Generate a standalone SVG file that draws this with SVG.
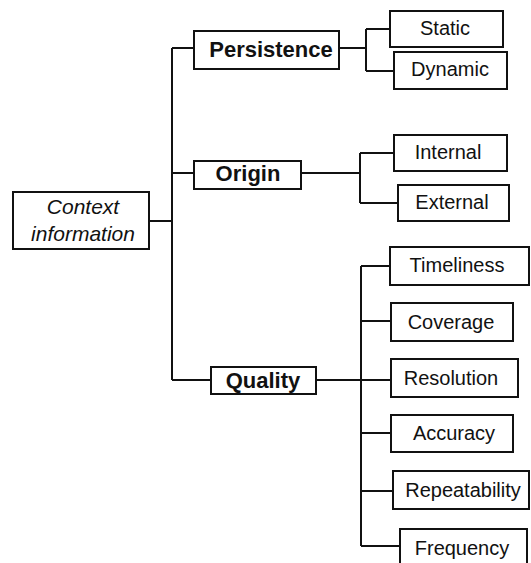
<svg xmlns="http://www.w3.org/2000/svg" width="531" height="563" viewBox="0 0 531 563">
  <style>
    .box { fill: #ffffff; stroke: #111111; stroke-width: 2; }
    .wire { fill: none; stroke: #111111; stroke-width: 2; }
    text { font-family: "Liberation Sans", Arial, sans-serif; fill: #111111; text-anchor: middle; }
    .leaf { font-size: 20px; }
    .cat { font-size: 22px; font-weight: bold; }
    .root { font-size: 21px; font-style: italic; }
  </style>
  <rect width="531" height="563" fill="#ffffff"/>

  <!-- tree connectors -->
  <g id="connectors">
    <path class="wire" d="M149 221 H172 M172 48 V380 M172 48 H194 M172 173 H194 M172 380 H211"/>
    <path class="wire" d="M339 48 H366 M366 29 V71 M366 29 H390 M366 71 H394"/>
    <path class="wire" d="M301 173 H360 M360 153 V203 M360 153 H394 M360 203 H398"/>
    <path class="wire" d="M316 380 H391 M361 266 V546 M361 266 H390 M361 321 H391 M361 433 H391 M361 491 H393 M361 546 H400"/>
  </g>

  <!-- root -->
  <g id="context-information">
    <rect class="box" x="13" y="192" width="136" height="57"/>
    <text class="root" x="83" y="214">Context</text>
    <text class="root" x="83" y="241">information</text>
  </g>

  <!-- categories -->
  <g id="persistence">
    <rect class="box" x="194" y="31" width="145" height="38"/>
    <text class="cat" x="271" y="57">Persistence</text>
  </g>
  <g id="origin">
    <rect class="box" x="194" y="161" width="107" height="28"/>
    <text class="cat" x="248" y="181">Origin</text>
  </g>
  <g id="quality">
    <rect class="box" x="211" y="367" width="105" height="27"/>
    <text class="cat" x="263" y="388">Quality</text>
  </g>

  <!-- persistence leaves -->
  <g id="static">
    <rect class="box" x="390" y="11" width="113" height="36"/>
    <text class="leaf" x="445" y="35">Static</text>
  </g>
  <g id="dynamic">
    <rect class="box" x="394" y="52" width="113" height="37"/>
    <text class="leaf" x="450" y="76">Dynamic</text>
  </g>

  <!-- origin leaves -->
  <g id="internal">
    <rect class="box" x="394" y="135" width="113" height="36"/>
    <text class="leaf" x="448" y="159">Internal</text>
  </g>
  <g id="external">
    <rect class="box" x="398" y="185" width="111" height="36"/>
    <text class="leaf" x="452" y="209">External</text>
  </g>

  <!-- quality leaves -->
  <g id="timeliness">
    <rect class="box" x="390" y="247" width="139" height="38"/>
    <text class="leaf" x="457" y="272">Timeliness</text>
  </g>
  <g id="coverage">
    <rect class="box" x="391" y="303" width="122" height="38"/>
    <text class="leaf" x="451" y="329">Coverage</text>
  </g>
  <g id="resolution">
    <rect class="box" x="391" y="359" width="127" height="38"/>
    <text class="leaf" x="451" y="385">Resolution</text>
  </g>
  <g id="accuracy">
    <rect class="box" x="391" y="415" width="122" height="37"/>
    <text class="leaf" x="454" y="440">Accuracy</text>
  </g>
  <g id="repeatability">
    <rect class="box" x="393" y="471" width="136" height="38"/>
    <text class="leaf" x="463" y="497">Repeatability</text>
  </g>
  <g id="frequency">
    <rect class="box" x="400" y="529" width="127" height="38"/>
    <text class="leaf" x="462" y="555">Frequency</text>
  </g>
</svg>
